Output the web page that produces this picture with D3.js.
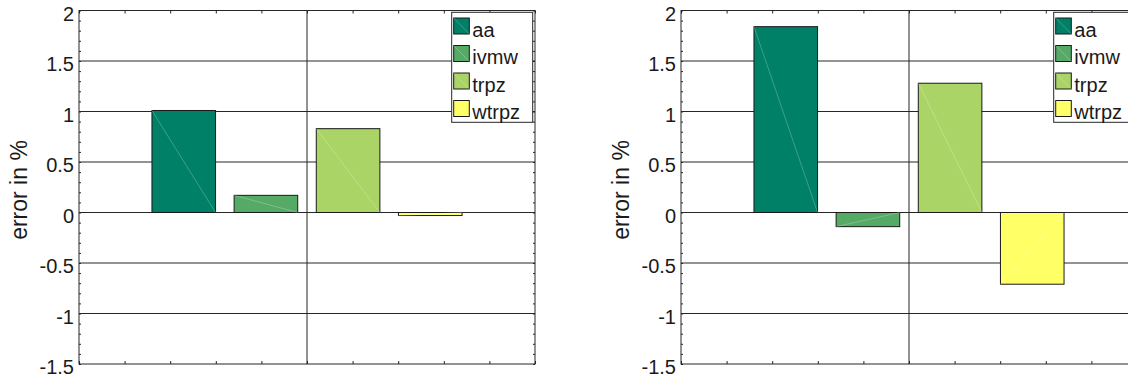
<!DOCTYPE html>
<html>
<head>
<meta charset="utf-8">
<script src="https://cdn.jsdelivr.net/npm/d3@7"></script>
<style>
    html, body { margin: 0; padding: 0; background: white; }
    svg { display: block; }
</style>
</head>
<body>
<div id="chart"></div>
<script>
// Chart data
//
var seriesNames  = ['aa', 'ivmw', 'trpz', 'wtrpz'];
var seriesColors = ['#008066', '#55aa66', '#aad466', '#ffff66'];
var leftValues   = [1.01, 0.17, 0.83, -0.03];
var rightValues  = [1.84, -0.14, 1.28, -0.71];
var yTicks       = [-1.5, -1, -0.5, 0, 0.5, 1, 1.5, 2];
var yLabel       = 'error in %';

// Set globals
//
var svg_width   = 1128;
var svg_height  = 379;

var x_box_min   = 79;
var x_box_max   = 535;
var y_box_min   = 10.5;
var y_box_max   = 364;
var panelShift  = 602;
var axisColor   = '#262626';
var fontFamily  = '"Liberation Sans", Arial, sans-serif';

var svg = d3.select("#chart").append("svg")
    .attr("width", svg_width)
    .attr("height", svg_height)
    .attr("viewBox", `0 0 ${svg_width} ${svg_height}`);

svg.append("rect")
    .attr("width", svg_width)
    .attr("height", svg_height)
    .attr("fill", "white");

plotPanel(svg, 0, leftValues);
plotPanel(svg, panelShift, rightValues);

// Plot one bar panel
//
function plotPanel(svgContainer, shift, values) {

    let g = svgContainer.append("g")
        .attr("transform", `translate(${shift},0)`);

    let x = d3.scaleLinear().domain([0.5, 1.5]).range([x_box_min, x_box_max]);
    let y = d3.scaleLinear().domain([-1.5, 2]).range([y_box_max, y_box_min]);

    let band = d3.scaleBand()
        .domain(seriesNames)
        .range([x(0.66), x(1.34)])
        .paddingInner(0.226)
        .paddingOuter(0);

    let data = seriesNames.map((name, i) => ({ name: name, value: values[i], color: seriesColors[i] }));

    // Grid lines
    //
    g.append("g")
        .selectAll("line")
        .data(yTicks.filter(d => d > -1.5 && d < 2))
        .join("line")
        .attr("x1", x_box_min)
        .attr("x2", x_box_max)
        .attr("y1", d => y(d))
        .attr("y2", d => y(d))
        .attr("stroke", axisColor)
        .attr("stroke-width", 1);

    g.append("line")
        .attr("x1", x(1))
        .attr("x2", x(1))
        .attr("y1", y_box_min)
        .attr("y2", y_box_max)
        .attr("stroke", axisColor)
        .attr("stroke-width", 1);

    // Bars
    //
    let bars = g.append("g").selectAll("g").data(data).join("g");

    bars.append("rect")
        .attr("x", d => band(d.name))
        .attr("y", d => y(Math.max(0, d.value)))
        .attr("width", band.bandwidth())
        .attr("height", d => Math.abs(y(d.value) - y(0)))
        .attr("fill", d => d.color)
        .attr("stroke", "#1a1a1a")
        .attr("stroke-width", 1);

    bars.append("line")
        .attr("x1", d => band(d.name))
        .attr("y1", d => y(d.value))
        .attr("x2", d => band(d.name) + band.bandwidth())
        .attr("y2", y(0))
        .attr("stroke", "white")
        .attr("stroke-opacity", 0.3)
        .attr("stroke-width", 0.8);

    // Axes and ticks (box, ticks inside)
    //
    let yAxisLeft = d3.axisRight(y)
        .tickValues(d3.range(-15, 21).map(d => d / 10))
        .tickSize(2)
        .tickFormat("");
    g.append("g")
        .attr("transform", `translate(${x_box_min},0)`)
        .call(yAxisLeft)
        .call(a => a.select(".domain").remove())
        .selectAll("line").attr("stroke", axisColor);

    let yAxisRight = d3.axisLeft(y)
        .tickValues(d3.range(-15, 21).map(d => d / 10))
        .tickSize(2)
        .tickFormat("");
    g.append("g")
        .attr("transform", `translate(${x_box_max},0)`)
        .call(yAxisRight)
        .call(a => a.select(".domain").remove())
        .selectAll("line").attr("stroke", axisColor);

    let xTicks = d3.range(5, 16).map(d => d / 10);
    g.append("g")
        .attr("transform", `translate(0,${y_box_max})`)
        .call(d3.axisTop(x).tickValues(xTicks).tickSize(3).tickFormat(""))
        .call(a => a.select(".domain").remove())
        .selectAll("line").attr("stroke", axisColor);

    g.append("g")
        .attr("transform", `translate(0,${y_box_min})`)
        .call(d3.axisBottom(x).tickValues(xTicks).tickSize(3).tickFormat(""))
        .call(a => a.select(".domain").remove())
        .selectAll("line").attr("stroke", axisColor);

    g.append("rect")
        .attr("x", x_box_min)
        .attr("y", y_box_min)
        .attr("width", x_box_max - x_box_min)
        .attr("height", y_box_max - y_box_min)
        .attr("fill", "none")
        .attr("stroke", axisColor)
        .attr("stroke-width", 1);

    // Tick labels
    //
    g.append("g")
        .selectAll("text")
        .data(yTicks)
        .join("text")
        .attr("x", x_box_min - 5)
        .attr("y", d => y(d) + 10)
        .attr("text-anchor", "end")
        .style("font-family", fontFamily)
        .style("font-size", "20px")
        .style("fill", "#1a1a1a")
        .text(d => d);

    // Y label
    //
    g.append("text")
        .attr("transform", `translate(27,190) rotate(-90)`)
        .attr("text-anchor", "middle")
        .style("font-family", fontFamily)
        .style("font-size", "23px")
        .style("fill", "#1a1a1a")
        .text(yLabel);

    // Legend
    //
    let legend = g.append("g")
        .attr("transform", `translate(${x_box_min + 372.7},12.3)`);

    legend.append("rect")
        .attr("width", 81)
        .attr("height", 110)
        .attr("fill", "white")
        .attr("stroke", axisColor)
        .attr("stroke-width", 1);

    let rows = legend.selectAll("g.row")
        .data(data)
        .join("g")
        .attr("class", "row")
        .attr("transform", (d, i) => `translate(2,${5.7 + i * 27.5})`);

    rows.append("rect")
        .attr("width", 15.6)
        .attr("height", 16)
        .attr("fill", d => d.color)
        .attr("stroke", "#1a1a1a")
        .attr("stroke-width", 1);

    rows.append("line")
        .attr("x1", 0).attr("y1", 0)
        .attr("x2", 15.6).attr("y2", 16)
        .attr("stroke", "white")
        .attr("stroke-opacity", 0.3)
        .attr("stroke-width", 0.8);

    rows.append("text")
        .attr("x", 18.6)
        .attr("y", 18.7)
        .style("font-family", fontFamily)
        .style("font-size", "20px")
        .style("fill", "#1a1a1a")
        .text(d => d.name);
}
</script>
</body>
</html>
